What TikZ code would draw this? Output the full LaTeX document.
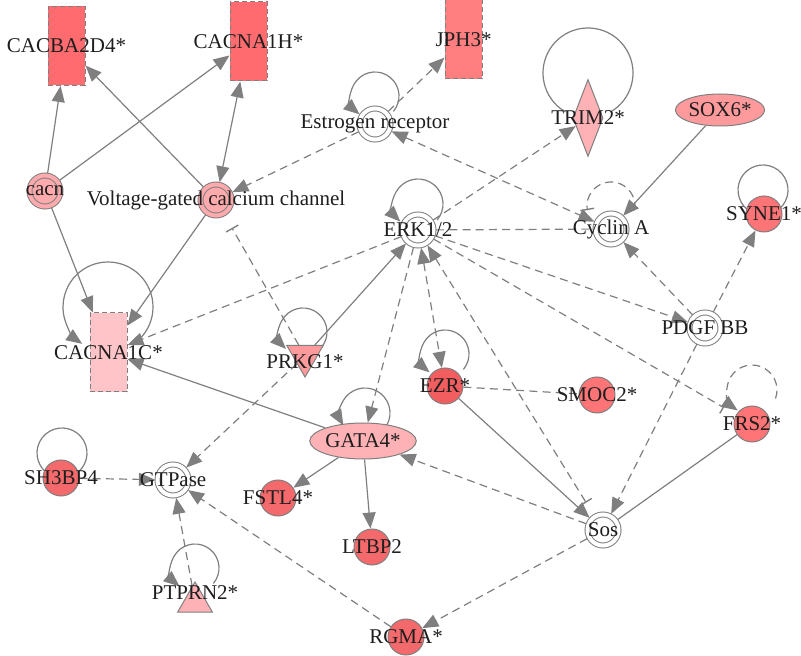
\documentclass[tikz,border=0pt]{standalone}
\usepackage{fontspec}
\setmainfont{Liberation Serif}
\usetikzlibrary{arrows.meta,shapes.geometric,backgrounds,calc}

\definecolor{edgegray}{HTML}{7F7F7F}
\definecolor{txtgray}{HTML}{1E1E1E}
\definecolor{redA}{HTML}{FF6B6E}
\definecolor{redB}{HTML}{FF7E80}
\definecolor{pinkC}{HTML}{FFC4C8}
\definecolor{pinkA}{HTML}{FFAAAD}
\definecolor{pinkB}{HTML}{FFB2B5}
\definecolor{redC}{HTML}{FF9A9C}
\definecolor{redD}{HTML}{FF7476}
\definecolor{redE}{HTML}{F25D5F}
\definecolor{redF}{HTML}{F4696B}

\begin{document}
\begin{tikzpicture}[x=0.5pt, y=-0.5pt,
  font=\fontsize{10.5}{12}\selectfont,
  >={Triangle[length=8pt,width=6.5pt]},
  every node/.style={text=txtgray},
  gene/.style={circle, draw=edgegray, line width=0.5pt, fill=#1, minimum size=18pt, inner sep=0pt},
  cplx/.style={circle, draw=edgegray, line width=0.5pt, double=#1, double distance=2pt, fill=#1, minimum size=15.5pt, inner sep=0pt, outer sep=1.3pt},
  chan/.style={rectangle, draw=edgegray, line width=0.5pt, dash pattern=on 2.5pt off 1.5pt, fill=#1, minimum width=18.5pt, minimum height=39.5pt, inner sep=0pt},
  kin/.style={regular polygon, regular polygon sides=3, draw=edgegray, line width=0.5pt, fill=#1, inner sep=0pt},
  oval/.style={ellipse, draw=edgegray, line width=0.5pt, fill=#1, inner sep=0pt},
  ln/.style={draw=edgegray, line width=0.6pt},
  dln/.style={ln, dash pattern=on 4pt off 2.6pt},
  inh/.style={-{Bar[width=7pt,line width=0.7pt]}, shorten >=7pt}
]

\useasboundingbox (0,0) rectangle (801,656);

\node[chan=redA, label=center:{CACBA2D4*}] (cacba) at (66.5,46) {};

\node[chan=redA, label=center:{CACNA1H*}] (cacnah) at (248.5,41.5) {};

\node[chan=redB, label=center:{JPH3*}] (jph) at (463.5,39.5) {};

\node[chan=pinkC, label=center:{CACNA1C*}] (cacnac) at (108.5,352.5) {};

\node[cplx=pinkA, label=center:cacn] (cacn) at (45,191) {};

\node[cplx=pinkA, label=center:{Voltage-gated calcium channel}] (vgcc) at (216,200) {};

\node[cplx=white, label=center:{Estrogen receptor}] (er) at (375,124) {};

\node[cplx=white, label=center:{ERK1/2}] (erk) at (418,230) {};

\node[cplx=white, label=center:{Cyclin A}] (cyca) at (611,229) {};

\node[cplx=white, label=center:{PDGF BB}] (pdgf) at (705,328) {};

\node[cplx=white, label=center:{GTPase}] (gtp) at (173,480) {};

\node[cplx=white, label=center:{Sos}] (sos) at (603,530) {};

\node[diamond, draw=edgegray, line width=0.5pt, fill=pinkB, minimum width=15pt, minimum height=38.5pt, inner sep=0pt, label=center:{TRIM2*}] (trim) at (588,118) {};

\node[oval=redC, minimum width=40pt, minimum height=16pt] (sox) at (720,110) {SOX6*};

\node[oval=pinkB, minimum width=41pt, minimum height=18pt] (gata) at (363,441) {GATA4*};

\node[kin=redC, minimum size=21pt, shape border rotate=180, label={[yshift=-3pt]center:PRKG1*}] (prkg) at (305,356) {};

\node[kin=pinkB, minimum size=20pt, label={[yshift=4.5pt]center:PTPRN2*}] (ptprn) at (195,602) {};

\node[gene=redD, label=center:{SYNE1*}] (syne) at (764,214) {};

\node[gene=redE, label=center:{EZR*}] (ezr) at (445,386) {};

\node[gene=redD, label=center:{SMOC2*}] (smoc) at (597,395) {};

\node[gene=redD, label=center:{FRS2*}] (frs) at (752,424) {};

\node[gene=redF, label=center:{SH3BP4}] (sh3) at (61,478) {};

\node[gene=redF, label=center:{FSTL4*}] (fstl) at (278,498) {};

\node[gene=redF, label=center:{LTBP2}] (ltbp) at (372,547) {};

\node[gene=redF, label=center:{RGMA*}] (rgma) at (406,637) {};

\begin{scope}[on background layer]

\draw[ln,->] (cacn) -- (cacba);
\draw[ln,->] (cacn) -- (cacnah);
\draw[ln,->] (cacn) -- (cacnac);
\draw[ln,->] (vgcc) -- (cacba);
\draw[ln,<->] (vgcc) -- (cacnah);
\draw[ln,->] (vgcc) -- (cacnac);

\draw[dln,->] (er) -- (vgcc);
\draw[dln,->] (er) -- (jph);
\draw[dln,<->] (er) -- (cyca);
\draw[dln,inh] (prkg) -- (vgcc);

\draw[dln,->] (erk) -- (cacnac);
\draw[ln,->] (prkg) -- (erk);
\draw[dln,->] (erk) -- (trim);
\draw[dln] (erk) -- (cyca);
\draw[dln,->] (erk) -- (pdgf);
\draw[dln,inh] (erk) -- (frs);
\draw[dln,<->] (erk) -- (ezr);
\draw[dln,{Triangle[length=8pt,width=6.5pt]}-{Bar[width=7pt,line width=0.7pt]},shorten >=7pt] (erk) -- (sos);
\draw[dln,->] (erk) -- (gata);

\draw[ln,->] (sox) -- (cyca);
\draw[dln,->] (pdgf) -- (cyca);
\draw[dln,->] (pdgf) -- (syne);
\draw[dln,->] (pdgf) -- (sos);

\draw[dln] (ezr) -- (smoc);
\draw[ln,->] (ezr) -- (sos);
\draw[ln] (frs) -- (sos);
\draw[dln,->] (sos) -- (gata);
\draw[dln,->] (sos) -- (rgma);

\draw[dln,->] (rgma) -- (gtp);
\draw[dln,->] (ptprn) -- (gtp);
\draw[dln,->] (sh3) -- (gtp);
\draw[dln,->] (prkg) -- (gtp);

\draw[ln,->] (gata) -- (cacnac);
\draw[ln,->] (gata) -- (fstl);
\draw[ln,->] (gata) -- (ltbp);

\draw[ln,->] ($(er)+(0,-28)+(40:24)$) arc[start angle=40, end angle=-230, radius=24];
\draw[ln,->] ($(erk)+(0,-26)+(40:25)$) arc[start angle=40, end angle=-225, radius=25];
\draw[dln,-{Bar[width=7pt,line width=0.7pt]}] ($(cyca)+(0,-23)+(10:24)$) arc[start angle=10, end angle=-190, radius=24];
\draw[ln] ($(trim)+(0,-45)+(60:45)$) arc[start angle=60, end angle=-240, radius=45];
\draw[ln] ($(syne)+(-1,-24)+(60:25)$) arc[start angle=60, end angle=-240, radius=25];
\draw[ln,->] ($(cacnac)+(-0.5,-45.5)+(45:45)$) arc[start angle=45, end angle=-235, radius=45];
\draw[ln,->] ($(prkg)+(-2,-24)+(40:24)$) arc[start angle=40, end angle=-225, radius=24];
\draw[ln,->] ($(ezr)+(0,-32)+(40:24)$) arc[start angle=40, end angle=-230, radius=24];
\draw[ln,->] ($(gata)+(2,-28)+(40:25)$) arc[start angle=40, end angle=-210, radius=25];
\draw[dln,->] ($(frs)+(0,-34)+(20:25)$) arc[start angle=20, end angle=-235, radius=25];
\draw[ln] ($(sh3)+(1,-25)+(60:25)$) arc[start angle=60, end angle=-240, radius=25];
\draw[ln,->] ($(ptprn)+(0,-34)+(40:24)$) arc[start angle=40, end angle=-230, radius=24];

\end{scope}

\end{tikzpicture}
\end{document}
